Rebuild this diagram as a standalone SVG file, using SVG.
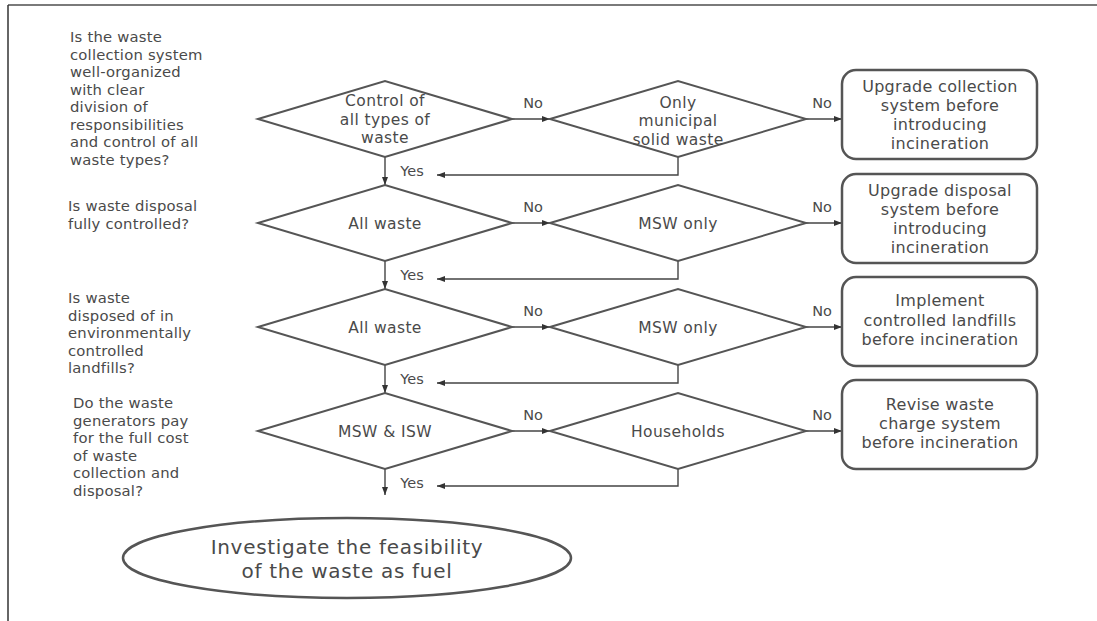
<svg xmlns="http://www.w3.org/2000/svg" width="1097" height="621" viewBox="0 0 1097 621">
  <style>
    .t { font-family: "DejaVu Sans", "Noto Sans", sans-serif; fill: #4a4a4a; }
    .q { font-size: 14.8px; letter-spacing: 0.2px; }
    .n { font-size: 15.5px; letter-spacing: 0.4px; text-anchor: middle; }
    .b { font-size: 16px; letter-spacing: 0.3px; text-anchor: middle; }
    .lbl { font-size: 14.5px; text-anchor: middle; }
    .end { font-size: 20px; letter-spacing: 0.7px; text-anchor: middle; }
    .dia { fill: #fff; stroke: #555; stroke-width: 2; stroke-linejoin: miter; }
    .box { fill: #fff; stroke: #555; stroke-width: 2.5; }
    .ln { fill: none; stroke: #444; stroke-width: 1.4; }
  </style>
  <defs>
    <marker id="arr" markerWidth="8" markerHeight="7" refX="8" refY="3.5" orient="auto" markerUnits="userSpaceOnUse">
      <path d="M0,0.5 L8,3.5 L0,6.5 z" fill="#333"/>
    </marker>
  </defs>

  <rect width="1097" height="621" fill="#fff"/>
  <!-- page frame -->
  <line x1="8" y1="5" x2="1097" y2="5" stroke="#7a7a7a" stroke-width="2"/>
  <line x1="8" y1="5" x2="8" y2="621" stroke="#333" stroke-width="1.5"/>

  <!-- questions -->
  <g id="q1" class="t q">
    <text x="70" y="42">Is the waste</text>
    <text x="70" y="59.5">collection system</text>
    <text x="70" y="77">well-organized</text>
    <text x="70" y="94.5">with clear</text>
    <text x="70" y="112">division of</text>
    <text x="70" y="129.5">responsibilities</text>
    <text x="70" y="147">and control of all</text>
    <text x="70" y="164.5">waste types?</text>
  </g>
  <g id="q2" class="t q">
    <text x="68" y="211">Is waste disposal</text>
    <text x="68" y="228.5">fully controlled?</text>
  </g>
  <g id="q3" class="t q">
    <text x="68" y="303">Is waste</text>
    <text x="68" y="320.5">disposed of in</text>
    <text x="68" y="338">environmentally</text>
    <text x="68" y="355.5">controlled</text>
    <text x="68" y="373">landfills?</text>
  </g>
  <g id="q4" class="t q">
    <text x="73" y="408">Do the waste</text>
    <text x="73" y="425.5">generators pay</text>
    <text x="73" y="443">for the full cost</text>
    <text x="73" y="460.5">of waste</text>
    <text x="73" y="478">collection and</text>
    <text x="73" y="495.5">disposal?</text>
  </g>

  <!-- connectors -->
  <g id="connectors" class="ln">
    <path d="M512,119 H550" marker-end="url(#arr)"/>
    <path d="M806,119 H842" marker-end="url(#arr)"/>
    <path d="M678,157 V175 H437" marker-end="url(#arr)"/>
    <path d="M385,157 V185" marker-end="url(#arr)"/>

    <path d="M512,223 H550" marker-end="url(#arr)"/>
    <path d="M806,223 H842" marker-end="url(#arr)"/>
    <path d="M678,261 V279 H437" marker-end="url(#arr)"/>
    <path d="M385,261 V289" marker-end="url(#arr)"/>

    <path d="M512,327 H550" marker-end="url(#arr)"/>
    <path d="M806,327 H842" marker-end="url(#arr)"/>
    <path d="M678,365 V383 H437" marker-end="url(#arr)"/>
    <path d="M385,365 V393" marker-end="url(#arr)"/>

    <path d="M512,431 H550" marker-end="url(#arr)"/>
    <path d="M806,431 H842" marker-end="url(#arr)"/>
    <path d="M678,469 V486 H437" marker-end="url(#arr)"/>
    <path d="M385,469 V495" marker-end="url(#arr)"/>
  </g>

  <!-- connector labels -->
  <g id="labels" class="t lbl">
    <text x="533" y="108">No</text>
    <text x="822" y="108">No</text>
    <text x="412" y="176">Yes</text>
    <text x="533" y="212">No</text>
    <text x="822" y="212">No</text>
    <text x="412" y="280">Yes</text>
    <text x="533" y="316">No</text>
    <text x="822" y="316">No</text>
    <text x="412" y="384">Yes</text>
    <text x="533" y="420">No</text>
    <text x="822" y="420">No</text>
    <text x="412" y="488">Yes</text>
  </g>

  <!-- row 1 -->
  <g id="d1a">
    <polygon class="dia" points="258,119 385,81 512,119 385,157"/>
    <text class="t n" x="385" y="106">Control of</text>
    <text class="t n" x="385" y="124.5">all types of</text>
    <text class="t n" x="385" y="143">waste</text>
  </g>
  <g id="d1b">
    <polygon class="dia" points="550,119 678,81 806,119 678,157"/>
    <text class="t n" x="678" y="107.5">Only</text>
    <text class="t n" x="678" y="126">municipal</text>
    <text class="t n" x="678" y="144.5">solid waste</text>
  </g>
  <g id="r1">
    <rect class="box" x="842" y="70" width="195" height="89" rx="14"/>
    <text class="t b" x="940" y="92">Upgrade collection</text>
    <text class="t b" x="940" y="111">system before</text>
    <text class="t b" x="940" y="130">introducing</text>
    <text class="t b" x="940" y="149">incineration</text>
  </g>

  <!-- row 2 -->
  <g id="d2a">
    <polygon class="dia" points="258,223 385,185 512,223 385,261"/>
    <text class="t n" x="385" y="229">All waste</text>
  </g>
  <g id="d2b">
    <polygon class="dia" points="550,223 678,185 806,223 678,261"/>
    <text class="t n" x="678" y="229">MSW only</text>
  </g>
  <g id="r2">
    <rect class="box" x="842" y="174" width="195" height="89" rx="14"/>
    <text class="t b" x="940" y="196">Upgrade disposal</text>
    <text class="t b" x="940" y="215">system before</text>
    <text class="t b" x="940" y="234">introducing</text>
    <text class="t b" x="940" y="253">incineration</text>
  </g>

  <!-- row 3 -->
  <g id="d3a">
    <polygon class="dia" points="258,327 385,289 512,327 385,365"/>
    <text class="t n" x="385" y="333">All waste</text>
  </g>
  <g id="d3b">
    <polygon class="dia" points="550,327 678,289 806,327 678,365"/>
    <text class="t n" x="678" y="333">MSW only</text>
  </g>
  <g id="r3">
    <rect class="box" x="842" y="277" width="195" height="89" rx="14"/>
    <text class="t b" x="940" y="306">Implement</text>
    <text class="t b" x="940" y="325.5">controlled landfills</text>
    <text class="t b" x="940" y="345">before incineration</text>
  </g>

  <!-- row 4 -->
  <g id="d4a">
    <polygon class="dia" points="258,431 385,393 512,431 385,469"/>
    <text class="t n" x="385" y="437">MSW &amp; ISW</text>
  </g>
  <g id="d4b">
    <polygon class="dia" points="550,431 678,393 806,431 678,469"/>
    <text class="t n" x="678" y="437">Households</text>
  </g>
  <g id="r4">
    <rect class="box" x="842" y="380" width="195" height="89" rx="14"/>
    <text class="t b" x="940" y="410">Revise waste</text>
    <text class="t b" x="940" y="429">charge system</text>
    <text class="t b" x="940" y="448">before incineration</text>
  </g>

  <!-- terminal -->
  <g id="end">
    <ellipse cx="347" cy="558" rx="224" ry="40" fill="#fff" stroke="#555" stroke-width="2.5"/>
    <text class="t end" x="347" y="554">Investigate the feasibility</text>
    <text class="t end" x="347" y="578">of the waste as fuel</text>
  </g>
</svg>
